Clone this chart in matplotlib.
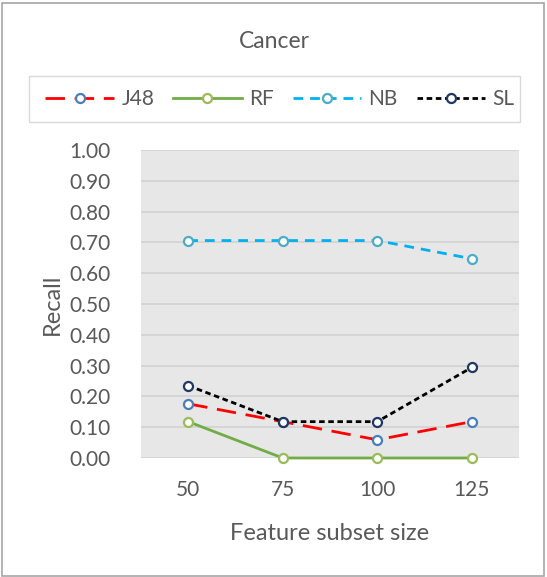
import matplotlib
matplotlib.use("Agg")
import matplotlib.pyplot as plt
from matplotlib.patches import Rectangle

# data
sizes = ["50", "75", "100", "125"]
j48 = [0.176, 0.118, 0.059, 0.118]
rf = [0.118, 0.0, 0.0, 0.0]
nb = [0.706, 0.706, 0.706, 0.647]
sl = [0.235, 0.118, 0.118, 0.294]
yticks = [0.0, 0.1, 0.2, 0.3, 0.4, 0.5, 0.6, 0.7, 0.8, 0.9, 1.0]

plt.rcParams['font.family'] = ['Lato', 'DejaVu Sans']
txt = '#595959'

W, H = 547, 577
fig = plt.figure(figsize=(W / 100, H / 100), dpi=100)

# outer chart border
fig.patches.append(Rectangle((1.5 / W, 1.5 / H), 542 / W, 573 / H, transform=fig.transFigure,
                             fill=False, edgecolor='#a6a6a6', lw=1.2))

ax = fig.add_axes([141 / W, 1 - 458 / H, 378 / W, 308 / H])
ax.set_facecolor('#e7e7e7')

x = list(range(len(sizes)))
lw = 2.0
ms = 6.5
kw = dict(marker='o', ms=ms, mfc='white', mew=1.6, lw=lw, clip_on=False, zorder=3)
l1, = ax.plot(x, j48, color='#ff0000', dashes=(7, 3.5), mec='#4a7ebb', label='J48', **kw)
l2, = ax.plot(x, rf, color='#70ad47', mec='#9bbb59', label='RF', **kw)
l3, = ax.plot(x, nb, color='#00b0f0', dashes=(3.5, 2.5), mec='#4bacc6', label='NB', **kw)
l4, = ax.plot(x, sl, color='black', dashes=(2, 1.3), mec='#1f3864', label='SL', **kw)

ax.set_xlim(-0.5, 3.5)
ax.set_ylim(0, 1.0)
ax.set_yticks(yticks)
ax.set_yticklabels(['%.2f' % v for v in yticks])
ax.set_xticks(x)
ax.set_xticklabels(sizes)
ax.grid(axis='y', color='#d4d4d4', lw=1.3)
ax.set_axisbelow(True)
for s in ax.spines.values():
    s.set_visible(False)
ax.tick_params(length=0, labelsize=15, labelcolor=txt)
ax.tick_params(axis='y', pad=22)
ax.tick_params(axis='x', pad=16)

ax.set_ylabel('Recall', fontsize=17, color=txt, va='center')
ax.yaxis.set_label_coords((52 - 141) / 378, 0.5)
ax.set_xlabel('Feature subset size', fontsize=17, color=txt, va='center')
ax.xaxis.set_label_coords(0.5, (458 - 534) / 308)

fig.text(274 / W, 1 - 41 / H, 'Cancer', ha='center', va='center', fontsize=16.5, color=txt)

# legend box
fig.patches.append(Rectangle((29 / W, 1 - 122 / H), 491 / W, 46 / H, transform=fig.transFigure,
                             fill=False, edgecolor='#d9d9d9', lw=1.0))
leg = fig.legend(handles=[l1, l2, l3, l4], loc='center', bbox_to_anchor=(280 / W, 1 - 99 / H),
                 ncol=4, frameon=False, fontsize=15, handlelength=3.3, handletextpad=0.35,
                 columnspacing=0.9, borderpad=0)
for t in leg.get_texts():
    t.set_color(txt)

fig.savefig('out.png', dpi=100)
